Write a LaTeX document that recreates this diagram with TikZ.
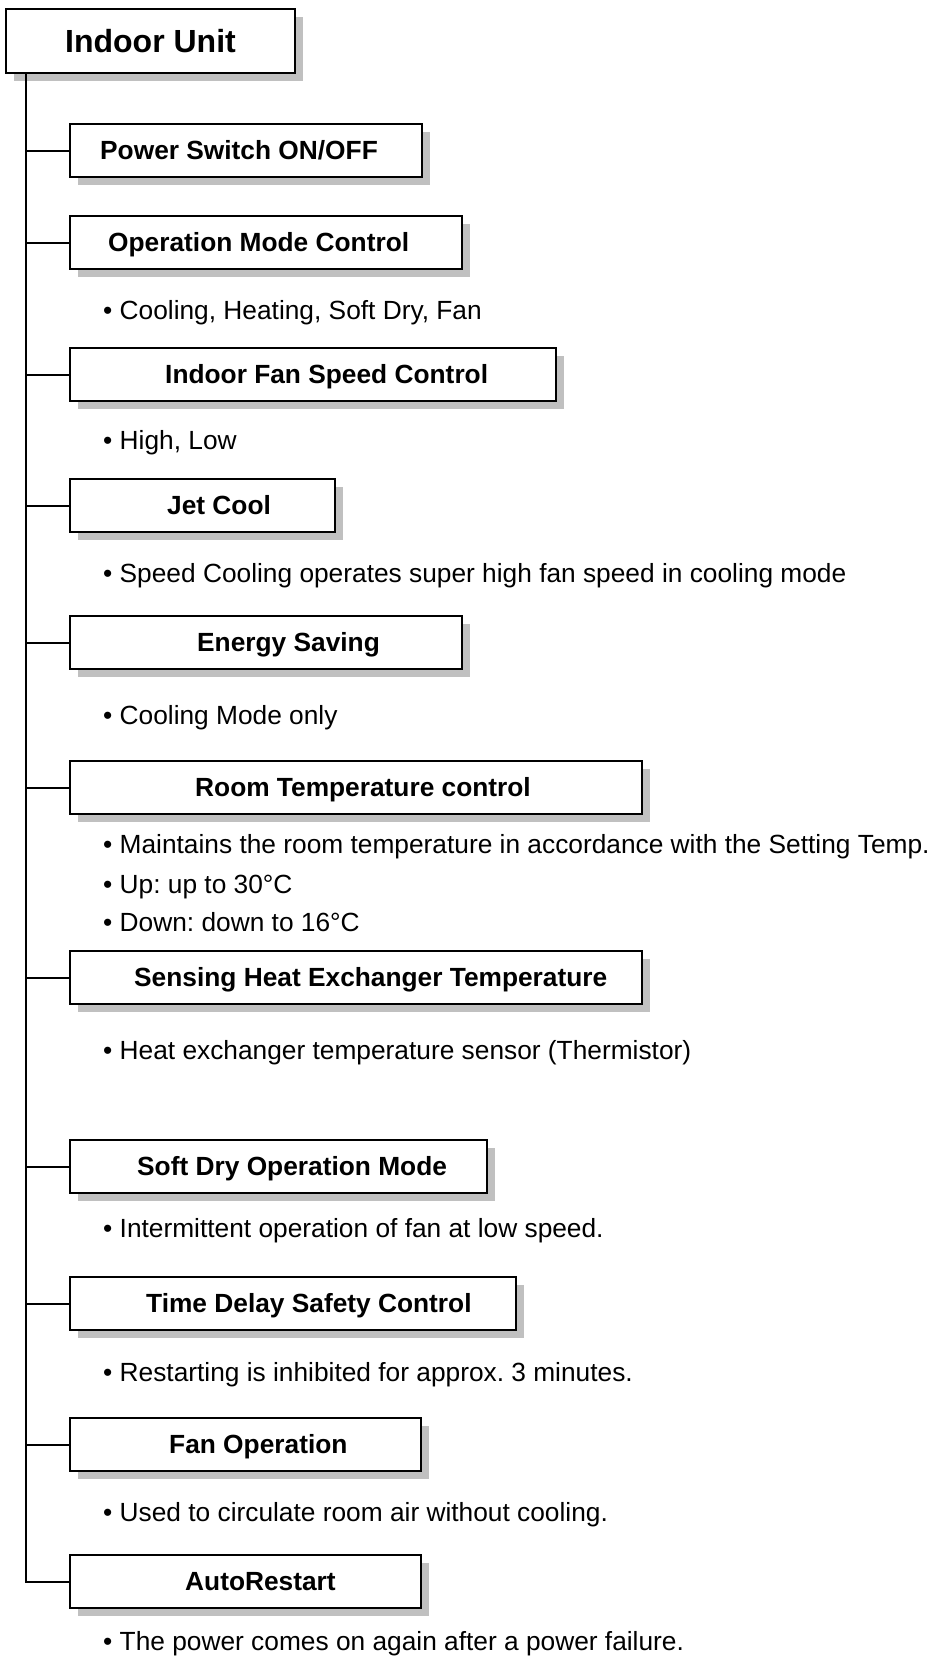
\documentclass[tikz,border=0pt]{standalone}
\usepackage{fontspec}
\setmainfont{Liberation Sans}
\usetikzlibrary{shadows}
\definecolor{shgray}{HTML}{C0C0C0}
\frenchspacing
\begin{document}
\begin{tikzpicture}[x=1pt,y=-1pt,
  box/.style={draw=black, line width=2pt, fill=white, rectangle, outer sep=0pt, inner sep=0pt,
    anchor=north west, minimum height=53pt,
    drop shadow={shadow xshift=7.5pt, shadow yshift=-7.5pt, fill=shgray, opacity=1}},
  lbl/.style={anchor=base west, inner sep=0pt, font=\fontsize{26.3}{30}\selectfont\bfseries},
  bul/.style={anchor=base west, inner sep=0pt, font=\fontsize{26.3}{30}\selectfont},
  conn/.style={draw=black, line width=2pt}]
\fill[white] (0,0) rectangle (944,1666);
\useasboundingbox (0,0) rectangle (944,1666);

% title
\node[box, minimum width=289pt, minimum height=64pt,
  font=\fontsize{32}{36}\selectfont\bfseries] (top) at (6,9) {Indoor Unit};

% boxes
\node[box, minimum width=352pt] (b1) at (70,124) {};
\node[box, minimum width=392pt] (b2) at (70,216) {};
\node[box, minimum width=486pt] (b3) at (70,348) {};
\node[box, minimum width=265pt] (b4) at (70,479) {};
\node[box, minimum width=392pt] (b5) at (70,616) {};
\node[box, minimum width=572pt] (b6) at (70,761) {};
\node[box, minimum width=572pt] (b7) at (70,951) {};
\node[box, minimum width=417pt] (b8) at (70,1140) {};
\node[box, minimum width=446pt] (b9) at (70,1277) {};
\node[box, minimum width=351pt] (b10) at (70,1418) {};
\node[box, minimum width=351pt] (b11) at (70,1555) {};

% box labels
\node[lbl] (t1) at ([xshift=30pt,yshift=-8.5pt]b1.west) {Power Switch ON/OFF};
\node[lbl] (t2) at ([xshift=38pt,yshift=-8.5pt]b2.west) {Operation Mode Control};
\node[lbl] (t3) at ([xshift=95pt,yshift=-8.5pt]b3.west) {Indoor Fan Speed Control};
\node[lbl] (t4) at ([xshift=97pt,yshift=-8.5pt]b4.west) {Jet Cool};
\node[lbl] (t5) at ([xshift=127pt,yshift=-8.5pt]b5.west) {Energy Saving};
\node[lbl] (t6) at ([xshift=125pt,yshift=-8.5pt]b6.west) {Room Temperature control};
\node[lbl] (t7) at ([xshift=64pt,yshift=-8.5pt]b7.west) {Sensing Heat Exchanger Temperature};
\node[lbl] (t8) at ([xshift=67pt,yshift=-8.5pt]b8.west) {Soft Dry Operation Mode};
\node[lbl] (t9) at ([xshift=76pt,yshift=-8.5pt]b9.west) {Time Delay Safety Control};
\node[lbl] (t10) at ([xshift=99pt,yshift=-8.5pt]b10.west) {Fan Operation};
\node[lbl] (t11) at ([xshift=115pt,yshift=-8.5pt]b11.west) {AutoRestart};

% bullets
\node[bul] (d2) at (103,319) {• Cooling, Heating, Soft Dry, Fan};
\node[bul] (d3) at (103,449) {• High, Low};
\node[bul] (d4) at (103,582) {• Speed Cooling operates super high fan speed in cooling mode};
\node[bul] (d5) at (103,724) {• Cooling Mode only};
\node[bul] (d6a) at (103,853) {• Maintains the room temperature in accordance with the Setting Temp.};
\node[bul] (d6b) at (103,893) {• Up: up to 30°C};
\node[bul] (d6c) at (103,931) {• Down: down to 16°C};
\node[bul] (d7) at (103,1059) {• Heat exchanger temperature sensor (Thermistor)};
\node[bul] (d8) at (103,1237) {• Intermittent operation of fan at low speed.};
\node[bul] (d9) at (103,1381) {• Restarting is inhibited for approx. 3 minutes.};
\node[bul] (d10) at (103,1521) {• Used to circulate room air without cooling.};
\node[bul] (d11) at (103,1650) {• The power comes on again after a power failure.};

% connectors
\coordinate (tr) at (26,73);
\draw[conn] (tr) |- (b11.west);
\foreach \i in {1,...,10}{
  \draw[conn] (b\i.west) -- (b\i.west -| tr);
}
\end{tikzpicture}
\end{document}
